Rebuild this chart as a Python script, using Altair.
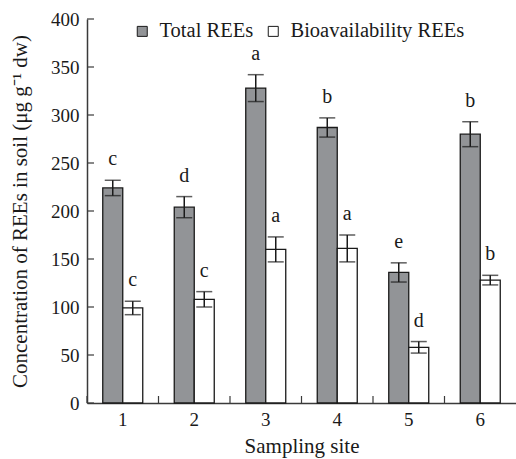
import altair as alt
import pandas as pd

sites = ["1", "2", "3", "4", "5", "6"]
series = ["Total REEs", "Bioavailability REEs"]
total_mean = [224, 204, 328, 287, 136, 280]
total_err = [8, 11, 14, 10, 10, 13]
total_letters = ["c", "d", "a", "b", "e", "b"]
bio_mean = [99, 108, 160, 161, 58, 128]
bio_err = [7, 8, 13, 14, 6, 5]
bio_letters = ["c", "c", "a", "a", "d", "b"]
y_ticks = [0, 50, 100, 150, 200, 250, 300, 350, 400]

rows = []
for i, s in enumerate(sites):
    rows.append(dict(site=s, series=series[0], mean=total_mean[i],
                     lo=total_mean[i] - total_err[i], hi=total_mean[i] + total_err[i],
                     letter=total_letters[i]))
    rows.append(dict(site=s, series=series[1], mean=bio_mean[i],
                     lo=bio_mean[i] - bio_err[i], hi=bio_mean[i] + bio_err[i],
                     letter=bio_letters[i]))
df = pd.DataFrame(rows)
tick_df = pd.DataFrame({"v": y_ticks})
site_df = pd.DataFrame({"site": sites})

FONT = "Liberation Serif"
AX = "#3a3a3a"
W, H = 429, 384

xsc = alt.Scale(domain=sites, paddingInner=0, paddingOuter=0)
xosc = alt.Scale(domain=series, paddingInner=0, paddingOuter=0.7875)
ysc = alt.Scale(domain=[0, 400], nice=False)

x_enc = alt.X("site:N", scale=xsc, sort=sites,
              axis=alt.Axis(title="Sampling site", labelAngle=0, ticks=False,
                            labelPadding=7, titlePadding=6))
xo_enc = alt.XOffset("series:N", scale=xosc, sort=series)

bars = alt.Chart(df).mark_bar(stroke="#1a1a1a", strokeWidth=1.3).encode(
    x=x_enc,
    xOffset=xo_enc,
    y=alt.Y("mean:Q", scale=ysc,
            axis=alt.Axis(title="Concentration of REEs in soil (μg g⁻¹ dw)",
                          values=y_ticks, ticks=False, labelPadding=8,
                          titlePadding=20, grid=False)),
    fill=alt.Fill("series:N",
                  scale=alt.Scale(domain=series, range=["#929497", "#ffffff"]),
                  sort=series,
                  legend=alt.Legend(title=None, orient="none", legendX=45, legendY=2,
                                    direction="horizontal", symbolType="square",
                                    symbolSize=100, symbolStrokeColor="#1a1a1a",
                                    symbolStrokeWidth=1, labelFont=FONT,
                                    labelFontSize=20.5, labelColor="#1a1a1a",
                                    labelLimit=400, labelOffset=7, columnPadding=9)),
)

err = alt.Chart(df).mark_rule(color="#1a1a1a", strokeWidth=1.5).encode(
    x=alt.X("site:N", scale=xsc, sort=sites),
    xOffset=xo_enc,
    y=alt.Y("lo:Q", scale=ysc),
    y2="hi:Q",
)
cap_hi = alt.Chart(df).mark_tick(color="#1a1a1a", thickness=1.5, size=16).encode(
    x=alt.X("site:N", scale=xsc, sort=sites),
    xOffset=xo_enc,
    y=alt.Y("hi:Q", scale=ysc),
)
cap_lo = alt.Chart(df).mark_tick(color="#1a1a1a", thickness=1.5, size=16).encode(
    x=alt.X("site:N", scale=xsc, sort=sites),
    xOffset=xo_enc,
    y=alt.Y("lo:Q", scale=ysc),
)
letters = alt.Chart(df).mark_text(font=FONT, fontSize=20, color="#1a1a1a",
                                  baseline="middle", dy=-21).encode(
    x=alt.X("site:N", scale=xsc, sort=sites),
    xOffset=xo_enc,
    y=alt.Y("hi:Q", scale=ysc),
    text="letter:N",
)

yticks = alt.Chart(tick_df).mark_rule(color=AX, strokeWidth=1.2).encode(
    y=alt.Y("v:Q", scale=ysc),
    x=alt.value(0), x2=alt.value(7),
)
xticks = alt.Chart(site_df).mark_rule(color=AX, strokeWidth=1.2).encode(
    x=alt.X("site:N", scale=xsc, sort=sites, bandPosition=0),
    y=alt.value(H - 7), y2=alt.value(H),
)

chart = alt.layer(bars, err, cap_hi, cap_lo, letters, yticks, xticks).properties(
    width=W, height=H,
    autosize=alt.AutoSizeParams(type="none"),
    padding={"left": 87, "top": 19, "right": 0, "bottom": 56},
).configure(background="white").configure_view(stroke=None).configure_axis(
    labelFont=FONT, titleFont=FONT, labelFontSize=19, titleFontSize=21,
    labelColor="#1a1a1a", titleColor="#1a1a1a", titleFontWeight="normal",
    domainColor=AX, domainWidth=1.5, grid=False,
)

chart.save("out.html", embed_options={"renderer": "svg", "actions": False})
